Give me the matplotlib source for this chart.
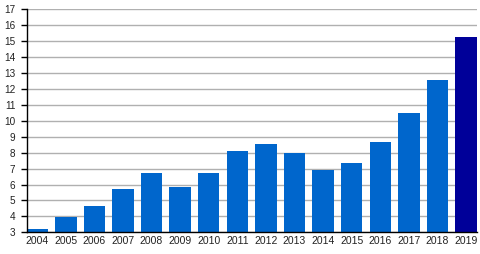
import matplotlib
matplotlib.use("Agg")
import matplotlib.pyplot as plt

years = ["2004", "2005", "2006", "2007", "2008", "2009", "2010", "2011",
         "2012", "2013", "2014", "2015", "2016", "2017", "2018", "2019"]
values = [3.2, 3.98, 4.65, 5.71, 6.71, 5.83, 6.71, 8.08,
          8.52, 7.96, 6.9, 7.33, 8.65, 10.52, 12.58, 15.27]
y_ticks = list(range(3, 18))

plt.rcParams['font.family'] = ['Liberation Sans', 'DejaVu Sans']

W, H = 481, 254
fig = plt.figure(figsize=(W / 100, H / 100), dpi=100)
ax = fig.add_axes([26.5 / W, (H - 232.3) / H, (476.7 - 26.5) / W, (232.3 - 9.3) / H])

colors = ["#0066cc"] * (len(years) - 1) + ["#000099"]
x = list(range(len(years)))
ax.bar(x, [v - 3 for v in values], bottom=3, width=0.75, color=colors, zorder=3)

ax.set_ylim(3, 17)
ax.set_xlim(-0.375, len(years) - 1 + 0.375)
ax.set_yticks(y_ticks)
ax.set_yticklabels([str(t) for t in y_ticks], fontsize=7.2, color="#222222")
ax.set_xticks(x)
ax.set_xticklabels(years, fontsize=7.5, color="#222222")
ax.tick_params(axis='x', length=0, pad=3)
ax.tick_params(axis='y', length=4, width=1, pad=4, color="black")
ax.yaxis.grid(True, color="#b0b0b0", linewidth=1, zorder=0)
ax.set_axisbelow(True)
for s in ["top", "right"]:
    ax.spines[s].set_visible(False)
for s in ["left", "bottom"]:
    ax.spines[s].set_color("black")
    ax.spines[s].set_linewidth(1)
    ax.spines[s].set_zorder(4)

fig.savefig("out.png", dpi=100)
